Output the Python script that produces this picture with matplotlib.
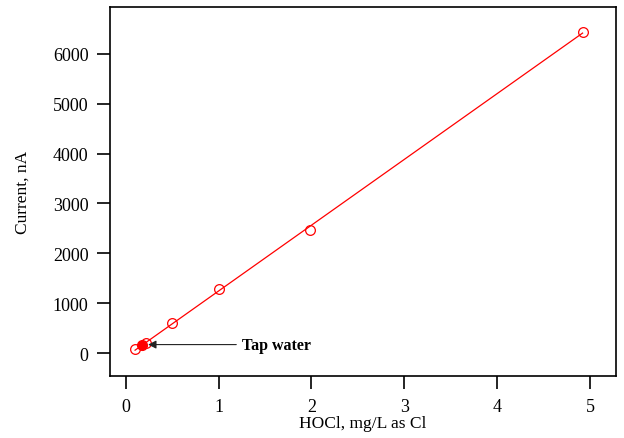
import matplotlib
matplotlib.use('Agg')
import matplotlib.pyplot as plt
import numpy as np

plt.rcParams['font.family'] = ['Liberation Serif', 'DejaVu Serif']

# calibration standards
hocl = [0.10, 0.22, 0.50, 1.00, 1.98, 4.92]
current = [80, 200, 600, 1280, 2460, 6440]

# tap water sample
tap_x = [0.18]
tap_y = [170]

fig = plt.figure(figsize=(6.24, 4.39), dpi=100)
ax = fig.add_axes([110/624, 62/439, 506/624, 369/439])

coef = np.polyfit(hocl, current, 1)
xs = np.array([min(hocl), max(hocl)])
ax.plot(xs, np.polyval(coef, xs), color='red', lw=0.9)
ax.plot(hocl, current, 'o', mfc='none', mec='red', ms=7, mew=0.9)
ax.plot(tap_x, tap_y, 'o', color='red', ms=7)

ax.annotate('Tap water', xy=(0.24, 170), xytext=(1.25, 170),
            fontsize=11.5, fontweight='bold', va='center', ha='left',
            arrowprops=dict(arrowstyle='-|>', color='#222222', lw=0.8,
                            mutation_scale=12, shrinkA=2, shrinkB=0))

ax.set_xlim(-0.17, 5.28)
ax.set_ylim(-460, 6940)
ax.set_xticks([0, 1, 2, 3, 4, 5])
ax.set_yticks([0, 1000, 2000, 3000, 4000, 5000, 6000])
ax.tick_params(direction='out', length=9.5, width=1.2, labelsize=13, pad=6)
for s in ax.spines.values():
    s.set_linewidth(1.2)
ax.set_xlabel('HOCl, mg/L as Cl', fontsize=12.5, labelpad=0)
ax.set_ylabel('Current, nA', fontsize=12.5, labelpad=16)

fig.savefig('out.png', dpi=100)
